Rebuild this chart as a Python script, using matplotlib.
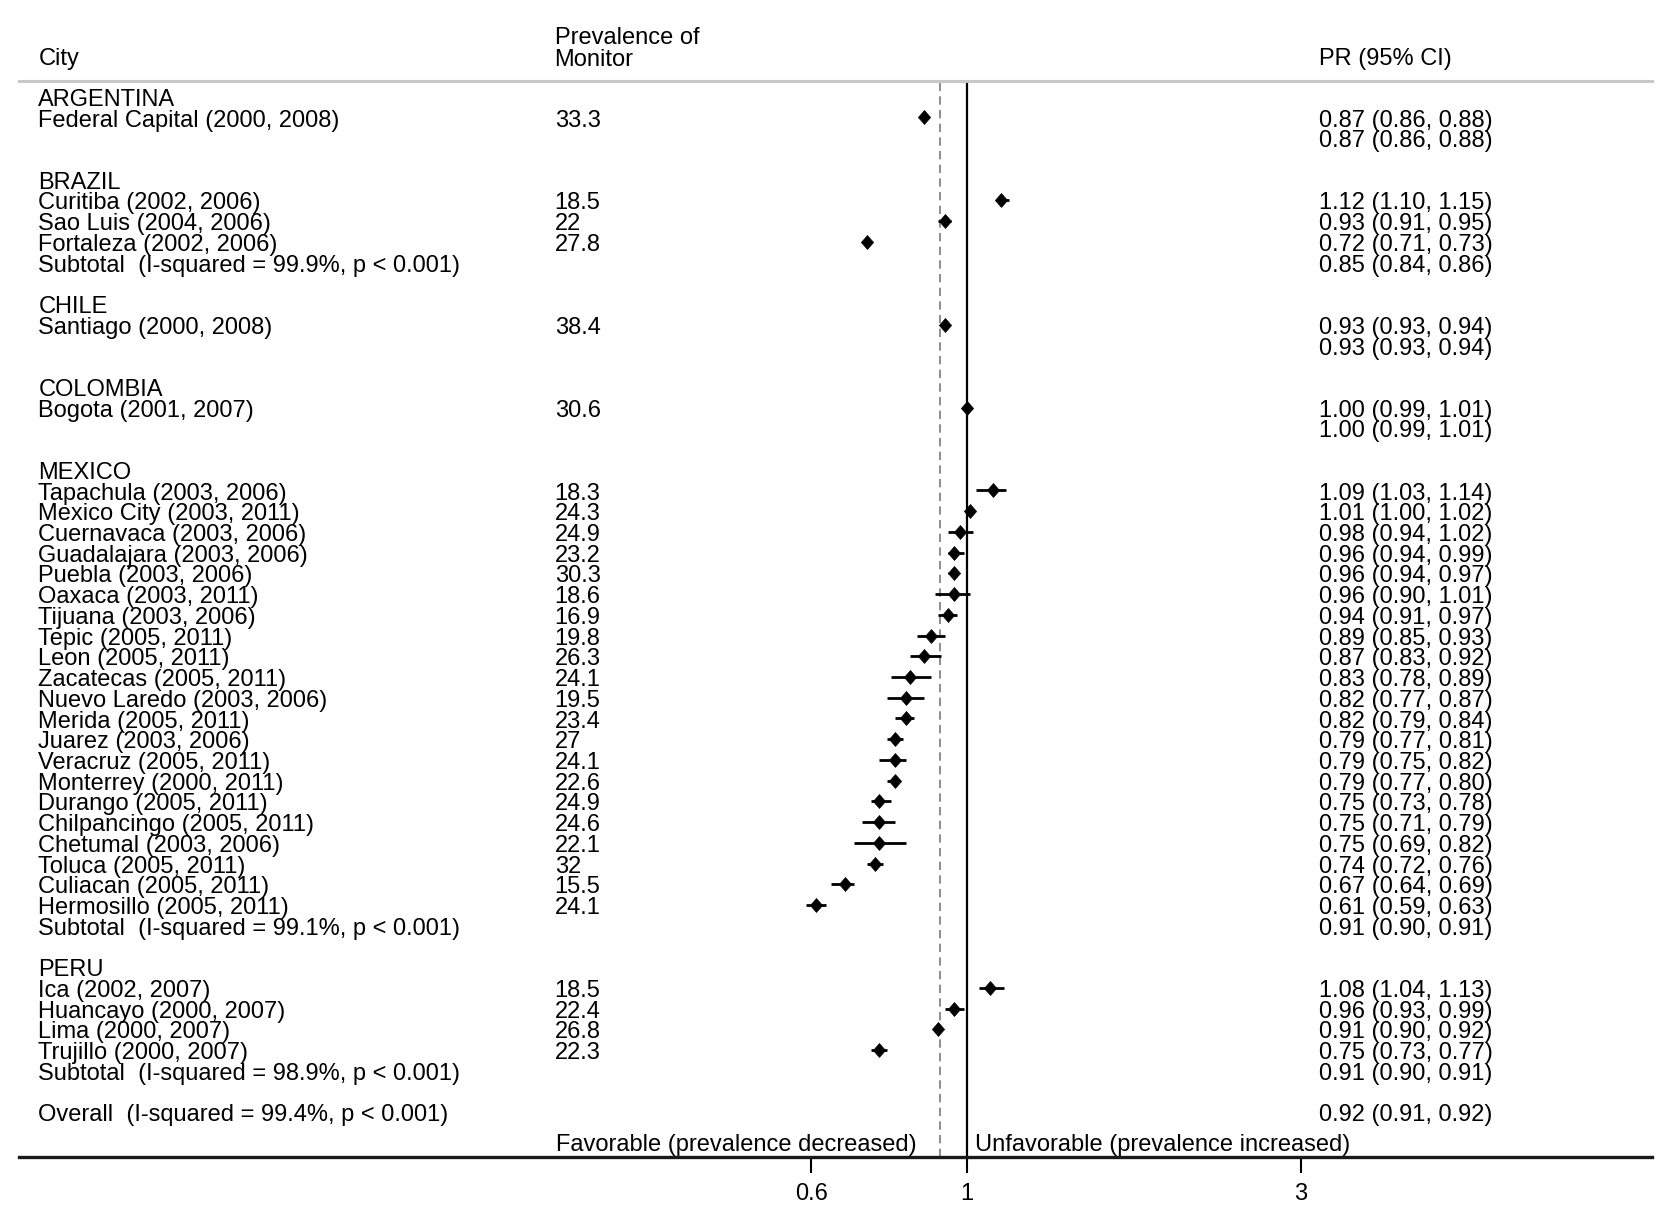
import matplotlib
matplotlib.use("Agg")
import matplotlib.pyplot as plt
import matplotlib.transforms as mtransforms

plt.rcParams['font.family'] = ['Liberation Sans', 'DejaVu Sans']

# ---------------- data ----------------
countries = ["ARGENTINA", "BRAZIL", "CHILE", "COLOMBIA", "MEXICO", "PERU"]

cities = [
    "Federal Capital (2000, 2008)",
    "Curitiba (2002, 2006)", "Sao Luis (2004, 2006)", "Fortaleza (2002, 2006)",
    "Santiago (2000, 2008)",
    "Bogota (2001, 2007)",
    "Tapachula (2003, 2006)", "Mexico City (2003, 2011)", "Cuernavaca (2003, 2006)",
    "Guadalajara (2003, 2006)", "Puebla (2003, 2006)", "Oaxaca (2003, 2011)",
    "Tijuana (2003, 2006)", "Tepic (2005, 2011)", "Leon (2005, 2011)",
    "Zacatecas (2005, 2011)", "Nuevo Laredo (2003, 2006)", "Merida (2005, 2011)",
    "Juarez (2003, 2006)", "Veracruz (2005, 2011)", "Monterrey (2000, 2011)",
    "Durango (2005, 2011)", "Chilpancingo (2005, 2011)", "Chetumal (2003, 2006)",
    "Toluca (2005, 2011)", "Culiacan (2005, 2011)", "Hermosillo (2005, 2011)",
    "Ica (2002, 2007)", "Huancayo (2000, 2007)", "Lima (2000, 2007)",
    "Trujillo (2000, 2007)",
]
city_country = [0, 1, 1, 1, 2, 3] + [4] * 21 + [5] * 4

prevalence = [33.3, 18.5, 22, 27.8, 38.4, 30.6,
              18.3, 24.3, 24.9, 23.2, 30.3, 18.6, 16.9, 19.8, 26.3, 24.1, 19.5,
              23.4, 27, 24.1, 22.6, 24.9, 24.6, 22.1, 32, 15.5, 24.1,
              18.5, 22.4, 26.8, 22.3]

pr = [0.87, 1.12, 0.93, 0.72, 0.93, 1.00,
      1.09, 1.01, 0.98, 0.96, 0.96, 0.96, 0.94, 0.89, 0.87, 0.83, 0.82,
      0.82, 0.79, 0.79, 0.79, 0.75, 0.75, 0.75, 0.74, 0.67, 0.61,
      1.08, 0.96, 0.91, 0.75]
pr_lo = [0.86, 1.10, 0.91, 0.71, 0.93, 0.99,
         1.03, 1.00, 0.94, 0.94, 0.94, 0.90, 0.91, 0.85, 0.83, 0.78, 0.77,
         0.79, 0.77, 0.75, 0.77, 0.73, 0.71, 0.69, 0.72, 0.64, 0.59,
         1.04, 0.93, 0.90, 0.73]
pr_hi = [0.88, 1.15, 0.95, 0.73, 0.94, 1.01,
         1.14, 1.02, 1.02, 0.99, 0.97, 1.01, 0.97, 0.93, 0.92, 0.89, 0.87,
         0.84, 0.81, 0.82, 0.80, 0.78, 0.79, 0.82, 0.76, 0.69, 0.63,
         1.13, 0.99, 0.92, 0.77]

sub_pr = [0.87, 0.85, 0.93, 1.00, 0.91, 0.91]
sub_lo = [0.86, 0.84, 0.93, 0.99, 0.90, 0.90]
sub_hi = [0.88, 0.86, 0.94, 1.01, 0.91, 0.91]
sub_i2 = [None, 99.9, None, None, 99.1, 98.9]

overall_pr, overall_lo, overall_hi, overall_i2 = 0.916, 0.91, 0.92, 99.4

tick_values = [0.6, 1, 3]
tick_labels = ["0.6", "1", "3"]

# ---------------- figure ----------------
W, H = 1664, 1217
fig = plt.figure(figsize=(W / 100, H / 100), dpi=100)
ax = fig.add_axes([19 / W, 1 - 1157 / H, 1633 / W, (1157 - 80.7) / H])
ax.set_xscale("log")
ax.set_xlim(0.0443, 9.53)
ax.set_ylim(51.16, -0.772)

FS = 17
DY = 0.15
trans = mtransforms.blended_transform_factory(ax.transAxes, ax.transData)
X_LAB, X_PREV, X_PR = 0.0118, 0.328, 0.7963

diamond = [(0, 1), (0.88, 0), (0, -1), (-0.88, 0), (0, 1)]


def fmt_pr(p, lo, hi):
    return f"{p:.2f} ({lo:.2f}, {hi:.2f})"


def txt(x, y, s, ha="left"):
    ax.text(x, y + DY, s, transform=trans, fontsize=FS, ha=ha, va="center",
            color="black")


# headers
txt(X_LAB, -1.99, "City")
txt(X_PREV, -2.97, "Prevalence of")
txt(X_PREV, -1.94, "Monitor")
txt(X_PR, -1.99, "PR (95% CI)")

row = 0
for c, cname in enumerate(countries):
    txt(X_LAB, row, cname)
    row += 1
    for i, cc in enumerate(city_country):
        if cc != c:
            continue
        txt(X_LAB, row, cities[i])
        txt(X_PREV, row, f"{prevalence[i]:g}")
        txt(X_PR, row, fmt_pr(pr[i], pr_lo[i], pr_hi[i]))
        ax.plot([pr_lo[i], pr_hi[i]], [row, row], color="black", lw=2.0,
                solid_capstyle="butt", zorder=3)
        ax.plot([pr[i]], [row], marker=diamond, ms=10, color="black",
                markeredgewidth=0.5, zorder=4)
        row += 1
    if sub_i2[c] is not None:
        txt(X_LAB, row, f"Subtotal  (I-squared = {sub_i2[c]:.1f}%, p < 0.001)")
    txt(X_PR, row, fmt_pr(sub_pr[c], sub_lo[c], sub_hi[c]))
    row += 2

txt(X_LAB, row, f"Overall  (I-squared = {overall_i2:.1f}%, p < 0.001)")
txt(X_PR, row, fmt_pr(overall_pr, overall_lo, overall_hi))

txt(0.5497, 50.43, "Favorable (prevalence decreased)", ha="right")
txt(0.5854, 50.43, "Unfavorable (prevalence increased)")

# reference lines
ax.axvline(1, color="black", lw=1.6, zorder=2)
ax.axvline(overall_pr, color="#7a7a7a", lw=1.2, ls=(0, (5, 3.2)), zorder=1)

# axes styling
for s in ("left", "right"):
    ax.spines[s].set_visible(False)
ax.spines["top"].set_color("#c8c8c8")
ax.spines["top"].set_linewidth(2.2)
ax.spines["bottom"].set_color("#1a1a1a")
ax.spines["bottom"].set_linewidth(2.4)
ax.set_yticks([])
ax.set_xticks(tick_values, labels=tick_labels)
ax.minorticks_off()
ax.tick_params(axis="x", direction="out", length=11.5, width=1.5,
               labelsize=FS, pad=7.5, colors="black")

fig.savefig("out.png", dpi=100, facecolor="white")
